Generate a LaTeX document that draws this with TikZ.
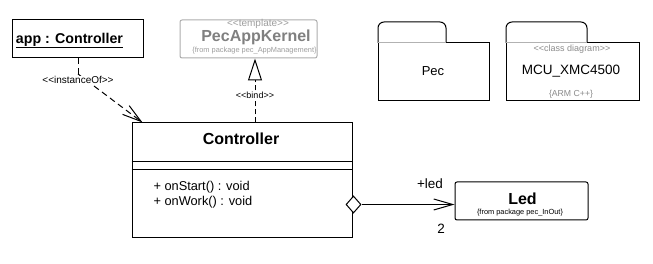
\documentclass[tikz,border=0pt]{standalone}
\usepackage{fontspec}
\setmainfont{Liberation Sans}
\usetikzlibrary{arrows.meta,shapes.geometric,calc}
\newcommand{\fs}[1]{\fontsize{#1}{#1}\selectfont}
\newcommand{\sopen}{<\kern0pt<}
\newcommand{\sclose}{>\kern0pt>}
\begin{document}
\begin{tikzpicture}[x=1pt,y=-1pt,line width=1pt,
  box/.style={draw,rectangle,inner sep=0pt},
  txt/.style={inner sep=0pt,anchor=base},
  txtl/.style={inner sep=0pt,anchor=base west},
  dashline/.style={dash pattern=on 6pt off 4pt},
  barb/.style={-{Straight Barb[length=19pt,width=11pt,line width=1pt]}},
  tri/.style={-{Triangle[open,length=22pt,width=14pt,line width=1pt]}},
  ghost/.style={black!50},
  faint/.style={black!38}]
\useasboundingbox (0,0) rectangle (653,264);
\fill[white] (0,0) rectangle (653,264);

% app : Controller
\node[box,minimum width=131pt,minimum height=38pt] (app) at (77.5,39) {};
\node[txt] (appt) at (69.5,43.3) {\fs{14.2}\bfseries\underline{app : Controller}};

% PecAppKernel
\node[box,draw=black!32,rounded corners=2pt,minimum width=137pt,minimum height=38pt] (kern) at (248.5,39) {};
\node[txt,faint] (kst) at (258,27) {\fs{10}\sopen template\sclose};
\node[txt,ghost] (kname) at (256,41.3) {\fs{16}\bfseries PecAppKernel};
\node[txt,faint] (kpkg) at (254.5,52.7) {\fs{7.4}\{from package pec\_AppManagement\}};

% Controller
\node[box,minimum width=220pt,minimum height=115pt] (ctrl) at (242,180.5) {};
\node[txt] (cname) at (241,145) {\fs{16}\bfseries Controller};
\draw ($(ctrl.north west)+(0,39)$) coordinate (d1l) -- (d1l -| ctrl.east);
\draw ($(ctrl.north west)+(0,47)$) coordinate (d2l) -- (d2l -| ctrl.east);
\node[txtl] (op1) at (153,191) {\fs{12.8}+ onStart() : void};
\node[txtl] (op2) at (153,206) {\fs{12.8}+ onWork() : void};

% instanceOf
\coordinate (bend) at (78,74);
\coordinate (itip) at ($(ctrl.north west)+(11,0)$);
\draw[dashline] (app.south -| bend) -- (bend);
\draw[dashline,barb] (bend) -- (itip);
\node[txt,fill=white,inner sep=1pt] (inst) at (78,84) {\fs{10}\sopen instanceOf\sclose};

% bind
\coordinate (bx) at (255,0);
\draw[dash pattern=on 5pt off 3pt,tri] (ctrl.north -| bx) -- (kern.south -| bx);
\node[txt,fill=white,inner sep=1pt] (bind) at (255,98.7) {\fs{9}\sopen bind\sclose};

% Packages
\draw (446,43) -- (489,43) -- (489,101) -- (378,101) -- (378,43);
\draw[rounded corners=6pt] (378,43) -- (378,22) -- (446,22) -- (446,43);
\draw[black!30] (378,43) -- (446,43);
\node[txt] (pec) at (433,75.3) {\fs{13}Pec};

\draw (587,43) -- (639,43) -- (639,101) -- (506,101) -- (506,43);
\draw[rounded corners=6pt] (506,43) -- (506,22) -- (587,22) -- (587,43);
\draw[black!30] (506,43) -- (587,43);
\node[txt,black!45] (mst) at (572,52) {\fs{9}\sopen class diagram\sclose};
\node[txt] (mcu) at (571,75) {\fs{13.5}MCU\_XMC4500};
\node[txt,black!45] (arm) at (571,97) {\fs{8.7}\{ARM C++\}};

% Led
\node[box,rounded corners=2pt,minimum width=133pt,minimum height=38pt] (led) at (521.5,201) {};
\node[txt] (ledt) at (522.5,205) {\fs{16}\bfseries Led};
\node[txt] (ledp) at (520,215) {\fs{7.4}\{from package pec\_InOut\}};

% aggregation
\node[draw,diamond,fill=white,inner sep=0pt,minimum width=15pt,minimum height=17pt] (agg) at (353.5,204.5) {};
\draw[barb] (agg.east) -- (agg.east -| led.west);
\node[txt] (role) at (430,189) {\fs{13.5}+led};
\node[txt] (mult) at (441,234) {\fs{13.5}2};
\end{tikzpicture}
\end{document}
